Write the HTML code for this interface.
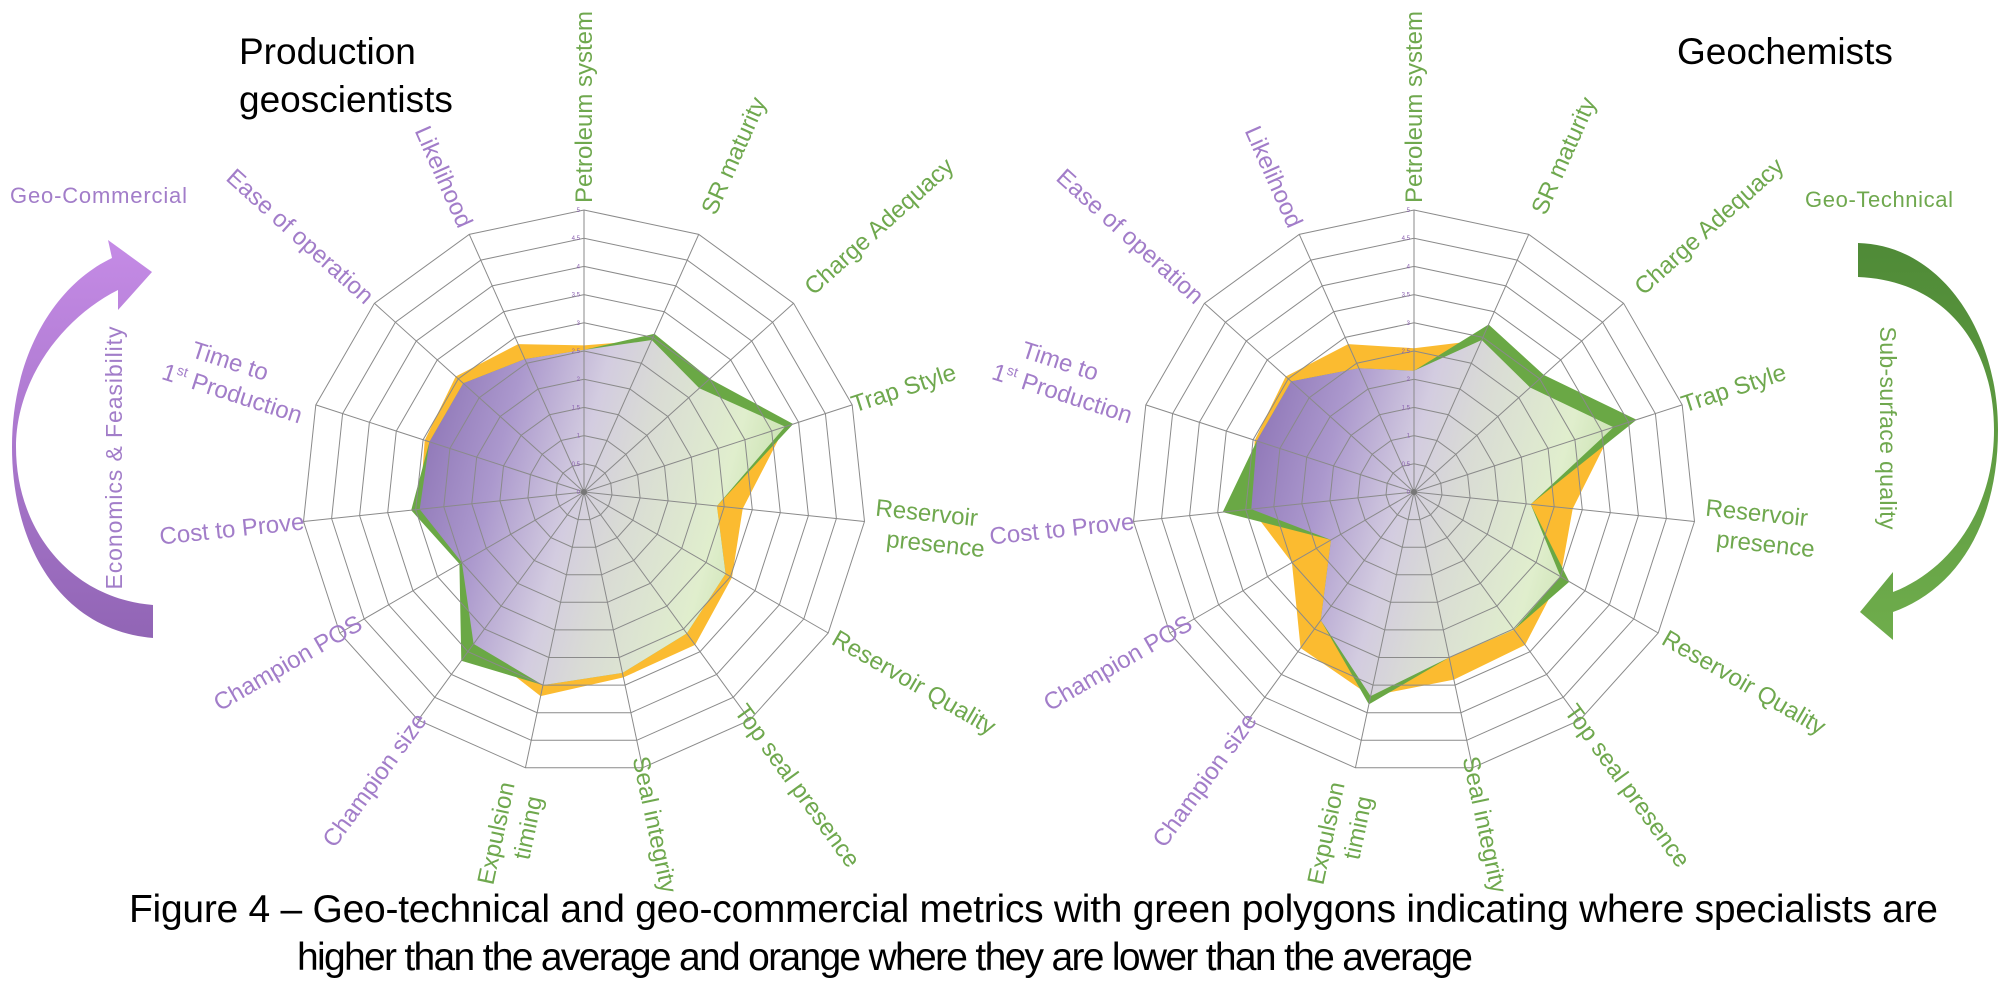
<!DOCTYPE html>
<html><head><meta charset="utf-8">
<style>
html,body{margin:0;padding:0;background:#fff;}
svg{display:block;}
text{font-family:"Liberation Sans",sans-serif;}
</style></head>
<body>
<svg id="fig" width="2015" height="998" viewBox="0 0 2015 998" xmlns="http://www.w3.org/2000/svg">
<defs>
<linearGradient id="fillGradL" gradientUnits="userSpaceOnUse" x1="330" y1="420" x2="850" y2="560">
<stop offset="0" stop-color="#70529f"/><stop offset="0.32" stop-color="#ab98cd"/><stop offset="0.47" stop-color="#d3cce0"/><stop offset="0.57" stop-color="#d9dbd5"/><stop offset="0.74" stop-color="#e0eecd"/><stop offset="1" stop-color="#a4cd80"/>
</linearGradient>
<linearGradient id="fillGradR" gradientUnits="userSpaceOnUse" x1="1160" y1="420" x2="1680" y2="560">
<stop offset="0" stop-color="#70529f"/><stop offset="0.32" stop-color="#ab98cd"/><stop offset="0.47" stop-color="#d3cce0"/><stop offset="0.57" stop-color="#d9dbd5"/><stop offset="0.74" stop-color="#e0eecd"/><stop offset="1" stop-color="#a4cd80"/>
</linearGradient>
<linearGradient id="purpArrow" x1="0" y1="0" x2="0" y2="1">
<stop offset="0" stop-color="#c58be6"/><stop offset="1" stop-color="#9165b5"/>
</linearGradient>
<linearGradient id="greenArrow" x1="0" y1="0" x2="0" y2="1">
<stop offset="0" stop-color="#4f8a37"/><stop offset="1" stop-color="#6fad4c"/>
</linearGradient>
</defs>

<text x="239" y="64" font-size="37" fill="#000">Production</text>
<text x="239" y="112" font-size="37" fill="#000">geoscientists</text>
<text x="1677" y="64" font-size="37" fill="#000">Geochemists</text>

<text x="10" y="203" font-size="22" fill="#a27dc9" textLength="177">Geo-Commercial</text>
<path d="M153,638 C60,630 12,545 12,447 C12,355 55,285 112,258 L108,240 L152,272 L118,310 L118,290 C62,318 16,380 16,447 C16,530 70,598 153,605 Z" fill="url(#purpArrow)"/>
<text transform="translate(122,458) rotate(-90)" text-anchor="middle" font-size="23" fill="#a27dc9" textLength="263">Economics &amp; Feasibility</text>

<text x="1805" y="207" font-size="22" fill="#6fa84e" textLength="148">Geo-Technical</text>
<path d="M1858,243 C1940,245 1998,330 1998,430 C1998,520 1960,588 1893,612 L1893,640 L1860,612 L1893,572 L1893,592 C1950,570 1994,510 1994,430 C1994,340 1940,280 1858,277 Z" fill="url(#greenArrow)"/>
<text transform="translate(1880,428) rotate(90)" text-anchor="middle" font-size="23" fill="#6fa84e" textLength="203">Sub-surface quality</text>

<text x="129" y="922" font-size="39" fill="#000" textLength="1809">Figure 4 – Geo-technical and geo-commercial metrics with green polygons indicating where specialists are</text>
<text x="297" y="970" font-size="39" fill="#000" textLength="1176">higher than the average and orange where they are lower than the average</text>
</svg>
<script>
const axisLabels = ["Petroleum system","SR maturity","Charge Adequacy","Trap Style","Reservoir|presence","Reservoir Quality","Top seal presence","Seal integrity","Expulsion|timing","Champion size","Champion POS","Cost to Prove","Time to|1st Production","Ease of operation","Likelihood"];
const axisGroup = ["tech","tech","tech","tech","tech","tech","tech","tech","tech","comm","comm","comm","comm","comm","comm"];
const ringTicks = ["0","0.5","1","1.5","2","2.5","3","3.5","4","4.5","5"];
const leftAverage = [2.6,2.95,2.75,3.75,2.83,3.03,3.35,3.36,3.7,3.33,2.5,2.93,2.97,3.06,2.87];
const leftSpecialist = [2.52,3.07,3.0,3.9,2.37,2.9,3.1,3.28,3.5,3.7,2.55,3.08,2.88,2.88,2.58];
const rightAverage = [2.55,2.95,2.77,3.72,2.83,3.0,3.35,3.4,3.7,3.42,2.5,2.9,2.97,3.06,2.87];
const rightSpecialist = [2.15,3.25,3.1,4.15,2.08,3.18,3.02,3.0,3.85,2.81,1.7,3.41,2.93,2.93,2.4];
const labelDist = [385,368,397,336,355,381,363,340,340,356,342,354,365,382,345];

const NS = "http://www.w3.org/2000/svg";
const svg = document.getElementById("fig");
const MAXV = 5, R = 282;

function mk(tag, attrs, parent) {
  const e = document.createElementNS(NS, tag);
  for (const k in attrs) e.setAttribute(k, attrs[k]);
  parent.appendChild(e);
  return e;
}
function angle(i) { return i * 2 * Math.PI / axisLabels.length; }
function rScale(v) { return v / MAXV * R; }
function pt(cx, cy, i, v) {
  const a = angle(i), r = rScale(v);
  return [cx + r * Math.sin(a), cy - r * Math.cos(a)];
}
function polyPoints(cx, cy, vals) {
  return vals.map((v, i) => pt(cx, cy, i, v).map(n => n.toFixed(1)).join(",")).join(" ");
}

function drawChart(cx, cy, avg, spec, grad, prefix) {
  const g = mk("g", {}, svg);
  
  
  const orange = mk("polygon", {points: polyPoints(cx, cy, avg), fill: "#fbbb30"}, g);
  
  
  const green = mk("polygon", {points: polyPoints(cx, cy, spec), fill: "#6aa845"}, g);
  
  
  const mins = avg.map((v, i) => Math.min(v, spec[i]));
  const core = mk("polygon", {points: polyPoints(cx, cy, mins), fill: "url(#" + grad + ")"}, g);
  
  
  for (let k = 1; k < ringTicks.length; k++) {
    const v = parseFloat(ringTicks[k]);
    const ring = mk("polygon", {points: polyPoints(cx, cy, axisLabels.map(() => v)), fill: "none", stroke: "#8a8a8a", "stroke-width": 1}, g);
    
    
  }
  for (let i = 0; i < axisLabels.length; i++) {
    const p = pt(cx, cy, i, MAXV);
    const sp = mk("line", {x1: cx, y1: cy, x2: p[0].toFixed(1), y2: p[1].toFixed(1), stroke: "#8a8a8a", "stroke-width": 1}, g);
    
    
  }
  for (let k = 0; k < ringTicks.length; k++) {
    const p = pt(cx, cy, 0, parseFloat(ringTicks[k]));
    const t = mk("text", {x: (p[0] - 4).toFixed(1), y: (p[1] + 2).toFixed(1), "font-size": 6, fill: "#8a5fb0", "text-anchor": "end"}, g);
    t.textContent = ringTicks[k];
    
    
  }
  mk("circle", {cx: cx, cy: cy, r: 3, fill: "#777"}, g);
  for (let i = 0; i < axisLabels.length; i++) {
    const a = angle(i), deg = a * 180 / Math.PI;
    const d = labelDist[i];
    const x = cx + d * Math.sin(a), y = cy - d * Math.cos(a);
    const rot = deg <= 180 ? deg - 90 : deg + 90;
    const lines = axisLabels[i].split("|");
    const t = mk("text", {transform: "translate(" + x.toFixed(1) + "," + y.toFixed(1) + ") rotate(" + rot.toFixed(1) + ")", "text-anchor": "middle", "font-size": 24, fill: axisGroup[i] === "tech" ? "#6fa84e" : "#a27dc9"}, g);
    
    
    const off = (lines.length - 1) * 15;
    lines.forEach((ln, j) => {
      const ts = mk("tspan", {x: j === 0 && lines.length > 1 ? -12 : 0, y: (j * 30 - off + 8)}, t);
      if (ln.indexOf("1st") === 0) {
        ts.textContent = "1";
        const sup = mk("tspan", {"font-size": 14, dy: -9}, ts);
        sup.textContent = "st";
        const rest = mk("tspan", {dy: 9}, ts);
        rest.textContent = ln.slice(3);
      } else {
        ts.textContent = ln;
      }
    });
  }
}
drawChart(584, 492, leftAverage, leftSpecialist, "fillGradL", "left");
drawChart(1414, 492, rightAverage, rightSpecialist, "fillGradR", "right");
</script>
</body></html>
